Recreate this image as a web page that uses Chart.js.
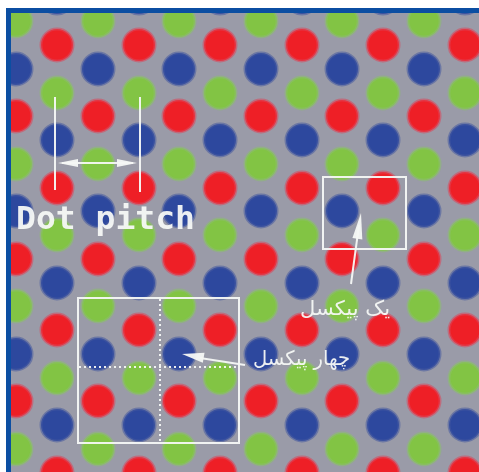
<!DOCTYPE html>
<html>
<head>
<meta charset="utf-8">
<script src="https://cdn.jsdelivr.net/npm/chart.js@4.4.0/dist/chart.umd.min.js"></script>
<style>
  html, body { margin: 0; padding: 0; background: #fff; overflow: hidden; }
  #frame {
    position: absolute; left: 6px; top: 8px;
    width: 468px; height: 459px;
    border-left: 5px solid #0b4ea2; border-top: 5px solid #0b4ea2;
    background: #9a9ba8;
  }
  #frame canvas { display: block; }
</style>
</head>
<body>
<div id="frame"><canvas id="dots" width="468" height="459"></canvas></div>
<script>
// dot centres (page pixels)
const colsA = [57, 139, 220, 302, 383, 465];
const colsB = [16, 98, 179, 261, 342, 424];
const rowY = [-2, 21, 45, 69, 93, 116, 140, 164, 188, 211, 235, 259, 283, 306, 330, 354, 378, 401, 425, 449, 473];
const rowShift = ['A','B','A','B','A','B','A','B','A','B','A','B','A','B','A','B','A','B','A','B','A'];
const rowColor = ['b','g','r','b','g','r','b','g','r','b','g','r','b','g','r','b','g','r','b','g','r'];

const labels = { r: 'Red', g: 'Green', b: 'Blue' };
const fills = { r: '#ee1f26', g: '#82c444', b: '#2d489e' };
const rims = { r: 'rgba(220,70,90,0.55)', g: 'rgba(140,190,110,0.55)', b: 'rgba(70,90,160,0.55)' };

function dotsFor(c) {
  const pts = [];
  rowY.forEach((yy, i) => {
    if (rowColor[i] !== c) return;
    const cols = rowShift[i] === 'A' ? colsA : colsB;
    cols.forEach(xx => pts.push({ x: xx, y: yy }));
  });
  return pts;
}

const overlay = {
  id: 'overlay',
  afterDatasetsDraw(chart) {
    const { ctx, scales: { x, y } } = chart;
    const px = v => x.getPixelForValue(v);
    const py = v => y.getPixelForValue(v);
    const white = 'rgba(245,248,245,0.95)';

    function seg(x1, y1, x2, y2) {
      ctx.beginPath();
      ctx.moveTo(px(x1), py(y1));
      ctx.lineTo(px(x2), py(y2));
      ctx.stroke();
    }
    function head(tx, ty, fx, fy, len, half) {
      const ax = px(tx), ay = py(ty), bx = px(fx), by = py(fy);
      const a = Math.atan2(ay - by, ax - bx);
      ctx.beginPath();
      ctx.moveTo(ax, ay);
      ctx.lineTo(ax - len * Math.cos(a) + half * Math.sin(a), ay - len * Math.sin(a) - half * Math.cos(a));
      ctx.lineTo(ax - len * Math.cos(a) - half * Math.sin(a), ay - len * Math.sin(a) + half * Math.cos(a));
      ctx.closePath();
      ctx.fill();
    }
    function fitText(str, right, base, width, font, rtl) {
      ctx.font = font;
      ctx.direction = rtl ? 'rtl' : 'ltr';
      ctx.textAlign = 'left';
      const w = ctx.measureText(str).width;
      ctx.save();
      ctx.translate(px(right), py(base));
      ctx.scale(width / w, 1);
      ctx.textAlign = rtl ? 'right' : 'left';
      ctx.fillText(str, 0, 0);
      ctx.restore();
    }

    ctx.save();
    ctx.strokeStyle = white;
    ctx.fillStyle = white;
    ctx.lineWidth = 2;

    // dot pitch markers
    seg(55, 97, 55, 190);
    seg(140, 97, 140, 192);
    seg(62, 163, 133, 163);
    head(58, 163, 140, 163, 20, 4);
    head(137, 163, 55, 163, 20, 4);

    // one pixel box + arrow
    ctx.strokeRect(px(323), py(177), px(406) - px(323), py(249) - py(177));
    seg(351, 284, 359, 225);
    head(361, 213, 351, 284, 26, 5);

    // four pixel box
    ctx.strokeRect(px(78), py(298), px(239) - px(78), py(443) - py(298));
    ctx.setLineDash([2, 3]);
    seg(160, 299, 160, 442);
    seg(79, 367, 238, 367);
    ctx.setLineDash([]);
    seg(200, 358, 245, 365);
    head(182, 354, 245, 365, 22, 5);

    // labels
    ctx.textBaseline = 'alphabetic';
    fitText('Dot pitch', 16, 229, 179, 'bold 32px "DejaVu Sans Mono", monospace', false);
    fitText('یک پیکسل', 390, 315, 90, '20px "DejaVu Sans", sans-serif', true);
    fitText('چهار پیکسل', 350, 365, 97, '20px "DejaVu Sans", sans-serif', true);
    ctx.restore();
  }
};

new Chart(document.getElementById('dots'), {
  type: 'scatter',
  data: {
    datasets: ['r', 'g', 'b'].map(c => ({
      label: labels[c],
      data: dotsFor(c),
      backgroundColor: fills[c],
      borderColor: rims[c],
      borderWidth: 3,
      pointRadius: 16,
      pointHoverRadius: 16,
      clip: false
    }))
  },
  options: {
    responsive: false,
    animation: false,
    layout: { padding: 0, autoPadding: false },
    plugins: { legend: { display: false }, tooltip: { enabled: false } },
    scales: {
      x: { type: 'linear', min: 11, max: 479, display: false },
      y: { type: 'linear', min: 13, max: 472, reverse: true, display: false }
    }
  },
  plugins: [overlay]
});
</script>
</body>
</html>
